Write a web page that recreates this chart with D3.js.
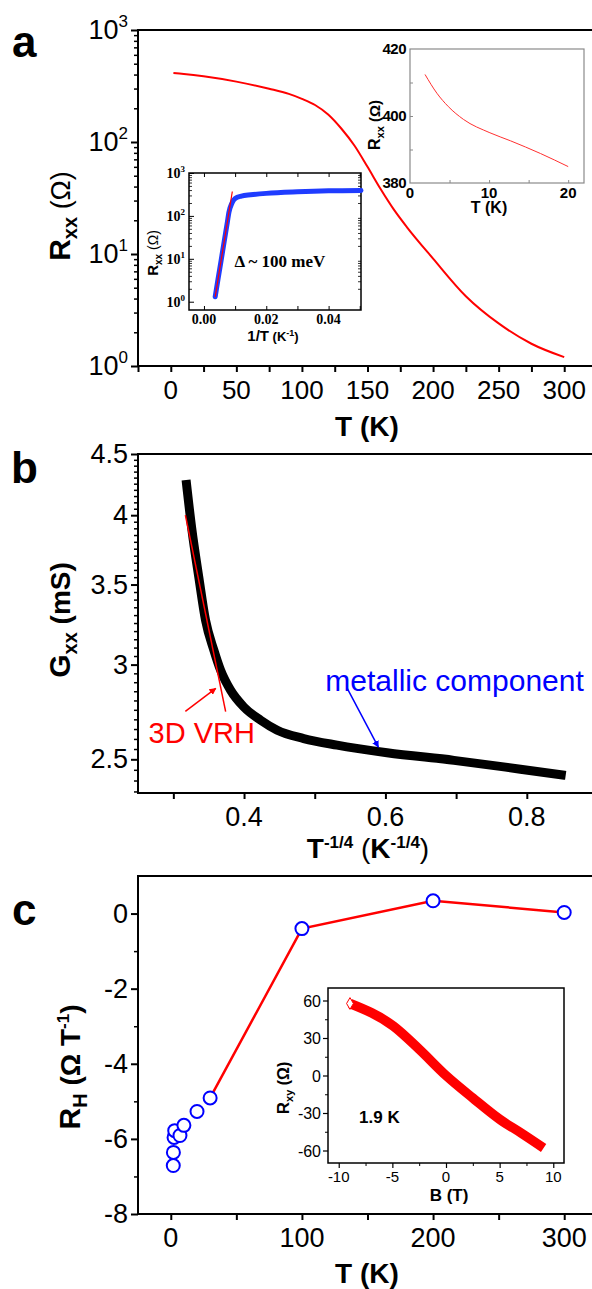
<!DOCTYPE html>
<html>
<head>
<meta charset="utf-8">
<script src="https://cdn.jsdelivr.net/npm/d3@7"></script>
<style>
  body { margin: 0; background: #fff; }
  svg { display: block; font-family: "Liberation Sans", Arial, sans-serif; }
</style>
</head>
<body>
<script>
// ---- data ----
// a: R_xx vs T (main)
const tA = [2, 10, 25, 50, 75, 90, 100, 110, 120, 130, 140, 150, 160, 170, 180, 200, 225, 250, 275, 300];
const rA = [413, 405, 386, 346, 299, 269, 243, 214, 176, 132, 93, 60, 38, 25, 17.4, 9.1, 4.2, 2.4, 1.58, 1.2];
// a, left inset: R_xx vs 1/T and the activated fit
const invT = [0.0036, 0.0045, 0.0055, 0.0065, 0.0075, 0.008, 0.009, 0.010, 0.012, 0.015, 0.02, 0.03, 0.04, 0.0504];
const rInv = [1.3, 3.3, 9.1, 25.6, 71, 120, 200, 255, 290, 310, 335, 365, 385, 392];
const fitInvT = [0.0036, 0.0091];
const fitRInv = [1.3, 370];
// a, right inset: low T
const tLow = [1.9, 3.4, 4.85, 6.75, 10.1, 12.7, 16.5, 20];
const rLow = [412.4, 406.8, 402.8, 399, 395, 392.6, 388.8, 384.9];
// b: G_xx vs T^-1/4 and the 3D VRH fit
const xB = [0.318, 0.326, 0.336, 0.3455, 0.3573, 0.3668, 0.3809, 0.3997, 0.4233, 0.447, 0.4844, 0.5316, 0.6023, 0.697, 0.791, 0.855];
const gB = [4.28, 3.90, 3.55, 3.268, 3.085, 2.968, 2.856, 2.765, 2.696, 2.644, 2.602, 2.569, 2.532, 2.495, 2.453, 2.424];
const fitXB = [0.317, 0.374];
const fitGB = [4.0, 2.74];
// c: Hall coefficient vs T
const tC = [1.9, 2, 2.5, 3, 7, 10, 20, 30, 100, 200, 300];
const rhC = [-6.71, -6.36, -5.96, -5.78, -5.91, -5.64, -5.27, -4.91, -0.4, 0.34, 0.03];
// c inset: R_xy vs B at 1.9 K
const bField = [-8.95, -4.9, -2.5, 0, 2.5, 5, 7, 9.1];
const rxy = [57.6, 39.5, 21, 0, -18, -35, -46, -58];

const svg = d3.select("body").append("svg").attr("width", 592).attr("height", 1289);

const defs = svg.append("defs");
[["arrRed", "#ff0000"], ["arrBlue", "#0000ff"]].forEach(([id, c]) => {
  defs.append("marker").attr("id", id).attr("viewBox", "0 0 10 10")
    .attr("refX", 9).attr("refY", 5).attr("markerWidth", 7).attr("markerHeight", 7)
    .attr("markerUnits", "userSpaceOnUse").attr("orient", "auto")
    .append("path").attr("d", "M0,0 L10,5 L0,10 Z").attr("fill", c);
});

function rich(sel, parts) {
  let prev = 0;
  parts.forEach(([t, size, weight, shift]) => {
    shift = shift || 0;
    sel.append("tspan").attr("font-size", size).attr("font-weight", weight || "normal")
      .attr("dy", shift - prev).text(t);
    prev = shift;
  });
  return sel;
}

function ticks(g, axis, w, color) {
  g.call(axis.tickFormat("").tickSizeOuter(0));
  g.select(".domain").remove();
  g.selectAll(".tick line").attr("stroke", color || "#000").attr("stroke-width", w);
}

function logMinor(decades) {
  const out = [];
  decades.forEach(d => d3.range(2, 10).forEach(k => out.push(d * k)));
  return out;
}

function panelLabel(txt, x, y) {
  svg.append("text").attr("x", x).attr("y", y).attr("font-size", 44)
    .attr("font-weight", "bold").text(txt);
}

// ================= panel a =================
const xA = d3.scaleLinear().domain([-25, 325]).range([138, 597]);
const yA = d3.scaleLog().domain([1, 1000]).range([366, 30]);
const gA = svg.append("g");

gA.append("g").attr("transform", "translate(0,366)")
  .call(g => ticks(g, d3.axisBottom(xA).tickValues(d3.range(-25, 326, 25)).tickSize(6), 2));
gA.append("g").attr("transform", "translate(138,0)")
  .call(g => ticks(g, d3.axisLeft(yA).tickValues([1, 10, 100, 1000]).tickSize(7), 2));
gA.append("g").attr("transform", "translate(138,0)")
  .call(g => ticks(g, d3.axisLeft(yA).tickValues(logMinor([1, 10, 100])).tickSize(4), 1.5));
gA.append("rect").attr("x", 138).attr("y", 30).attr("width", 459).attr("height", 336)
  .attr("fill", "none").attr("stroke", "#000").attr("stroke-width", 2);

d3.range(0, 301, 50).forEach(v => {
  gA.append("text").attr("x", xA(v)).attr("y", 399).attr("text-anchor", "middle")
    .attr("font-size", 26).text(v);
});
[1, 10, 100, 1000].forEach((v, i) => {
  rich(gA.append("text").attr("x", 128).attr("y", yA(v) + 9).attr("text-anchor", "end"),
    [["10", 27], [String(i), 17, "normal", -12]]);
});
gA.append("text").attr("x", 367).attr("y", 436).attr("text-anchor", "middle")
  .attr("font-size", 28).attr("font-weight", "bold").text("T (K)");
rich(gA.append("text").attr("transform", "translate(70,216) rotate(-90)").attr("text-anchor", "middle"),
  [["R", 30, "bold"], ["xx", 20, "bold", 7], [" (Ω)", 27, "normal", 0]]);

gA.append("path")
  .datum(tA.map((t, i) => [t, rA[i]]))
  .attr("d", d3.line().x(d => xA(d[0])).y(d => yA(d[1])).curve(d3.curveMonotoneX))
  .attr("fill", "none").attr("stroke", "#ff0000").attr("stroke-width", 2);

panelLabel("a", 12, 57);

// ---- a, left inset (1/T) ----
const xI = d3.scaleLinear().domain([-0.0048, 0.0504]).range([189, 361]);
const yI = d3.scaleLog().domain([0.641, 1000]).range([310, 173]);
const gI = svg.append("g");
gI.append("rect").attr("x", 189).attr("y", 173).attr("width", 172).attr("height", 137)
  .attr("fill", "#fff").attr("stroke", "#000").attr("stroke-width", 1.5);
const invTicks = [0, 0.01, 0.02, 0.03, 0.04, 0.05];
gI.append("g").attr("transform", "translate(0,310)")
  .call(g => ticks(g, d3.axisTop(xI).tickValues(invTicks).tickSize(4), 1));
gI.append("g").attr("transform", "translate(0,173)")
  .call(g => ticks(g, d3.axisBottom(xI).tickValues(invTicks).tickSize(4), 1));
gI.append("g").attr("transform", "translate(189,0)")
  .call(g => ticks(g, d3.axisRight(yI).tickValues([1, 10, 100, 1000]).tickSize(5), 1));
gI.append("g").attr("transform", "translate(189,0)")
  .call(g => ticks(g, d3.axisRight(yI).tickValues(logMinor([1, 10, 100])).tickSize(3), 0.8));
gI.append("g").attr("transform", "translate(361,0)")
  .call(g => ticks(g, d3.axisLeft(yI).tickValues(logMinor([1, 10, 100])).tickSize(3), 0.8));

[1, 10, 100, 1000].forEach((v, i) => {
  rich(gI.append("text").attr("x", 185).attr("y", yI(v) + 5).attr("text-anchor", "end")
    .attr("font-family", "Liberation Serif, serif").attr("font-weight", "bold"),
    [["10", 14, "bold"], [String(i), 9, "bold", -6]]);
});
[0, 0.02, 0.04].forEach(v => {
  gI.append("text").attr("x", xI(v)).attr("y", 324).attr("text-anchor", "middle")
    .attr("font-family", "Liberation Serif, serif").attr("font-weight", "bold")
    .attr("font-size", 14).text(v.toFixed(2));
});
rich(gI.append("text").attr("x", 273).attr("y", 341).attr("text-anchor", "middle"),
  [["1/T", 15, "bold"], [" (K", 13, "bold"], ["-1", 9, "bold", -5], [")", 13, "bold", 0]]);
rich(gI.append("text").attr("transform", "translate(158,253) rotate(-90)").attr("text-anchor", "middle"),
  [["R", 15, "bold"], ["xx", 10, "bold", 4], [" (Ω)", 14, "normal", 0]]);

gI.append("path")
  .datum(invT.map((t, i) => [t, rInv[i]]))
  .attr("d", d3.line().x(d => xI(d[0])).y(d => yI(d[1])).curve(d3.curveMonotoneX))
  .attr("fill", "none").attr("stroke", "#1f3cff").attr("stroke-width", 5)
  .attr("stroke-linecap", "round");
gI.append("path")
  .datum(fitInvT.map((t, i) => [t, fitRInv[i]]))
  .attr("d", d3.line().x(d => xI(d[0])).y(d => yI(d[1])))
  .attr("fill", "none").attr("stroke", "#ff0000").attr("stroke-width", 1.2);
gI.append("text").attr("x", xI(0.0098)).attr("y", yI(6.4))
  .attr("font-family", "Liberation Serif, serif").attr("font-weight", "bold")
  .attr("font-size", 17).text("Δ ~ 100 meV");

// ---- a, right inset (low T) ----
const xL = d3.scaleLinear().domain([0, 22]).range([410, 584]);
const yL = d3.scaleLinear().domain([380, 420]).range([183, 49]);
const gL = svg.append("g");
gL.append("rect").attr("x", 410).attr("y", 49).attr("width", 174).attr("height", 134)
  .attr("fill", "#fff").attr("stroke", "#8a8a8a").attr("stroke-width", 1.2);
gL.append("g").attr("transform", "translate(0,183)")
  .call(g => ticks(g, d3.axisTop(xL).tickValues([5, 10, 15, 20]).tickSize(3), 1, "#8a8a8a"));
gL.append("g").attr("transform", "translate(410,0)")
  .call(g => ticks(g, d3.axisRight(yL).tickValues([390, 400, 410]).tickSize(3), 1, "#8a8a8a"));
[380, 400, 420].forEach(v => {
  gL.append("text").attr("x", 406).attr("y", yL(v) + 5).attr("text-anchor", "end")
    .attr("font-size", 15).attr("font-weight", "bold").attr("letter-spacing", -0.5).text(v);
});
[0, 10, 20].forEach(v => {
  gL.append("text").attr("x", xL(v)).attr("y", 198).attr("text-anchor", "middle")
    .attr("font-size", 15).attr("font-weight", "bold").text(v);
});
gL.append("text").attr("x", 489).attr("y", 213).attr("text-anchor", "middle")
  .attr("font-size", 16).attr("font-weight", "bold").text("T (K)");
rich(gL.append("text").attr("transform", "translate(380,125) rotate(-90)").attr("text-anchor", "middle"),
  [["R", 16, "bold"], ["xx", 11, "bold", 4], [" (Ω)", 15, "bold", 0]]);
gL.append("path")
  .datum(tLow.map((t, i) => [t, rLow[i]]))
  .attr("d", d3.line().x(d => xL(d[0])).y(d => yL(d[1])).curve(d3.curveMonotoneX))
  .attr("fill", "none").attr("stroke", "#ff3030").attr("stroke-width", 1);

// ================= panel b =================
const xBs = d3.scaleLinear().domain([0.25, 0.9]).range([138, 597.5]);
const yBs = d3.scaleLog().domain([2.343, 4.5]).range([793, 454]);
const gBp = svg.append("g");
gBp.append("g").attr("transform", "translate(0,793)")
  .call(g => ticks(g, d3.axisBottom(xBs).tickValues([0.3, 0.4, 0.5, 0.6, 0.7, 0.8]).tickSize(6), 2));
gBp.append("g").attr("transform", "translate(138,0)")
  .call(g => ticks(g, d3.axisLeft(yBs).tickValues([2.5, 3, 3.5, 4, 4.5]).tickSize(7), 2));
const bMinor = d3.range(47, 90).map(k => k * 0.05).filter(v => Math.abs(v * 2 - Math.round(v * 2)) > 0.01);
gBp.append("g").attr("transform", "translate(138,0)")
  .call(g => ticks(g, d3.axisLeft(yBs).tickValues(bMinor).tickSize(4), 1.5));
gBp.append("rect").attr("x", 138).attr("y", 454).attr("width", 459.5).attr("height", 339)
  .attr("fill", "none").attr("stroke", "#000").attr("stroke-width", 2);
[[4.5, "4.5"], [4, "4"], [3.5, "3.5"], [3, "3"], [2.5, "2.5"]].forEach(([v, s]) => {
  gBp.append("text").attr("x", 128).attr("y", yBs(v) + 9).attr("text-anchor", "end")
    .attr("font-size", 27).text(s);
});
[0.4, 0.6, 0.8].forEach(v => {
  gBp.append("text").attr("x", xBs(v)).attr("y", 826).attr("text-anchor", "middle")
    .attr("font-size", 27).text(v.toFixed(1));
});
rich(gBp.append("text").attr("x", 368).attr("y", 858).attr("text-anchor", "middle"),
  [["T", 28, "bold"], ["-1/4", 17, "bold", -10], [" (", 28, "normal", 0], ["K", 28, "bold", 0],
   ["-1/4", 17, "bold", -10], [")", 28, "normal", 0]]);
rich(gBp.append("text").attr("transform", "translate(70,620) rotate(-90)").attr("text-anchor", "middle"),
  [["G", 30, "bold"], ["xx", 20, "bold", 7], [" (mS)", 28, "bold", 0]]);

gBp.append("path")
  .datum(xB.map((x, i) => [x, gB[i]]))
  .attr("d", d3.line().x(d => xBs(d[0])).y(d => yBs(d[1])).curve(d3.curveMonotoneX))
  .attr("fill", "none").attr("stroke", "#000").attr("stroke-width", 9);
gBp.append("path")
  .datum(fitXB.map((x, i) => [x, fitGB[i]]))
  .attr("d", d3.line().x(d => xBs(d[0])).y(d => yBs(d[1])))
  .attr("fill", "none").attr("stroke", "#ff0000").attr("stroke-width", 1.5);

gBp.append("line").attr("x1", xBs(0.317)).attr("y1", yBs(2.742))
  .attr("x2", xBs(0.36)).attr("y2", yBs(2.866))
  .attr("stroke", "#ff0000").attr("stroke-width", 1.5).attr("marker-end", "url(#arrRed)");
gBp.append("line").attr("x1", xBs(0.546)).attr("y1", yBs(2.866))
  .attr("x2", xBs(0.59)).attr("y2", yBs(2.559))
  .attr("stroke", "#0000ff").attr("stroke-width", 1.5).attr("marker-end", "url(#arrBlue)");
gBp.append("text").attr("x", xBs(0.265)).attr("y", yBs(2.58))
  .attr("font-size", 29).attr("fill", "#ff0000").text("3D VRH");
gBp.append("text").attr("x", xBs(0.515)).attr("y", yBs(2.85))
  .attr("font-size", 30).attr("fill", "#0000ff").text("metallic component");

panelLabel("b", 11, 483);

// ================= panel c =================
const xC = d3.scaleLinear().domain([-25, 325]).range([138, 597]);
const yC = d3.scaleLinear().domain([-8, 1]).range([1214, 876]);
const gC = svg.append("g");
gC.append("g").attr("transform", "translate(0,1214)")
  .call(g => ticks(g, d3.axisBottom(xC).tickValues(d3.range(0, 301, 50)).tickSize(6), 2));
gC.append("g").attr("transform", "translate(138,0)")
  .call(g => ticks(g, d3.axisLeft(yC).tickValues([-8, -6, -4, -2, 0]).tickSize(7), 2));
gC.append("g").attr("transform", "translate(138,0)")
  .call(g => ticks(g, d3.axisLeft(yC).tickValues([-7, -5, -3, -1]).tickSize(4), 1.5));
gC.append("rect").attr("x", 138).attr("y", 876).attr("width", 459).attr("height", 338)
  .attr("fill", "none").attr("stroke", "#000").attr("stroke-width", 2);
[0, -2, -4, -6, -8].forEach(v => {
  gC.append("text").attr("x", 128).attr("y", yC(v) + 9).attr("text-anchor", "end")
    .attr("font-size", 27).text(v === 0 ? "0" : "-" + Math.abs(v));
});
[0, 100, 200, 300].forEach(v => {
  gC.append("text").attr("x", xC(v)).attr("y", 1247).attr("text-anchor", "middle")
    .attr("font-size", 27).text(v);
});
gC.append("text").attr("x", 367).attr("y", 1283).attr("text-anchor", "middle")
  .attr("font-size", 28).attr("font-weight", "bold").text("T (K)");
rich(gC.append("text").attr("transform", "translate(80,1067) rotate(-90)").attr("text-anchor", "middle"),
  [["R", 30, "bold"], ["H", 20, "bold", 7], [" (Ω ", 28, "bold", 0], ["T", 28, "bold", 0],
   ["-1", 17, "bold", -11], [")", 28, "bold", 0]]);

const ptsC = tC.map((t, i) => [t, rhC[i]]);
gC.append("path")
  .datum(ptsC.filter(d => d[0] >= 30))
  .attr("d", d3.line().x(d => xC(d[0])).y(d => yC(d[1])))
  .attr("fill", "none").attr("stroke", "#ff0000").attr("stroke-width", 2.5);
gC.selectAll("circle.pt").data(ptsC).join("circle").attr("class", "pt")
  .attr("cx", d => xC(d[0])).attr("cy", d => yC(d[1])).attr("r", 6.5)
  .attr("fill", "#fff").attr("stroke", "#0000ff").attr("stroke-width", 2);

// ---- c inset ----
const xH = d3.scaleLinear().domain([-11, 11]).range([328, 564]);
const yH = d3.scaleLinear().domain([-70, 70]).range([1163, 988]);
const gH = svg.append("g");
gH.append("rect").attr("x", 328).attr("y", 988).attr("width", 236).attr("height", 175)
  .attr("fill", "#fff").attr("stroke", "#000").attr("stroke-width", 1.5);
gH.append("g").attr("transform", "translate(0,1163)")
  .call(g => ticks(g, d3.axisBottom(xH).tickValues([-10, -5, 0, 5, 10]).tickSize(5), 1.2));
gH.append("g").attr("transform", "translate(0,1163)")
  .call(g => ticks(g, d3.axisBottom(xH).tickValues([-7.5, -2.5, 2.5, 7.5]).tickSize(3), 1));
gH.append("g").attr("transform", "translate(328,0)")
  .call(g => ticks(g, d3.axisLeft(yH).tickValues([-60, -30, 0, 30, 60]).tickSize(5), 1.2));
gH.append("g").attr("transform", "translate(328,0)")
  .call(g => ticks(g, d3.axisLeft(yH).tickValues([-45, -15, 15, 45]).tickSize(3), 1));
[60, 30, 0, -30, -60].forEach(v => {
  gH.append("text").attr("x", 321).attr("y", yH(v) + 6).attr("text-anchor", "end")
    .attr("font-size", 16).text(v);
});
[-10, -5, 0, 5, 10].forEach(v => {
  gH.append("text").attr("x", xH(v)).attr("y", 1182).attr("text-anchor", "middle")
    .attr("font-size", 15).text(v);
});
gH.append("text").attr("x", 449).attr("y", 1201).attr("text-anchor", "middle")
  .attr("font-size", 17).attr("font-weight", "bold").text("B (T)");
rich(gH.append("text").attr("transform", "translate(289,1088) rotate(-90)").attr("text-anchor", "middle"),
  [["R", 17, "bold"], ["xy", 11, "bold", 4], [" (Ω)", 16, "bold", 0]]);
gH.append("text").attr("x", xH(-8.1)).attr("y", yH(-38))
  .attr("font-size", 17).attr("font-weight", "bold").text("1.9 K");

const ptsH = bField.map((b, i) => [b, rxy[i]]);
gH.append("path")
  .datum(ptsH)
  .attr("d", d3.line().x(d => xH(d[0])).y(d => yH(d[1])).curve(d3.curveMonotoneX))
  .attr("fill", "none").attr("stroke", "#ff0000").attr("stroke-width", 9.5);
gH.append("path")
  .attr("transform", `translate(${xH(bField[0])},${yH(rxy[0])})`)
  .attr("d", d3.symbol(d3.symbolDiamond, 40)())
  .attr("fill", "#fff").attr("stroke", "#ff0000").attr("stroke-width", 1);

panelLabel("c", 12, 925);
</script>
</body>
</html>
